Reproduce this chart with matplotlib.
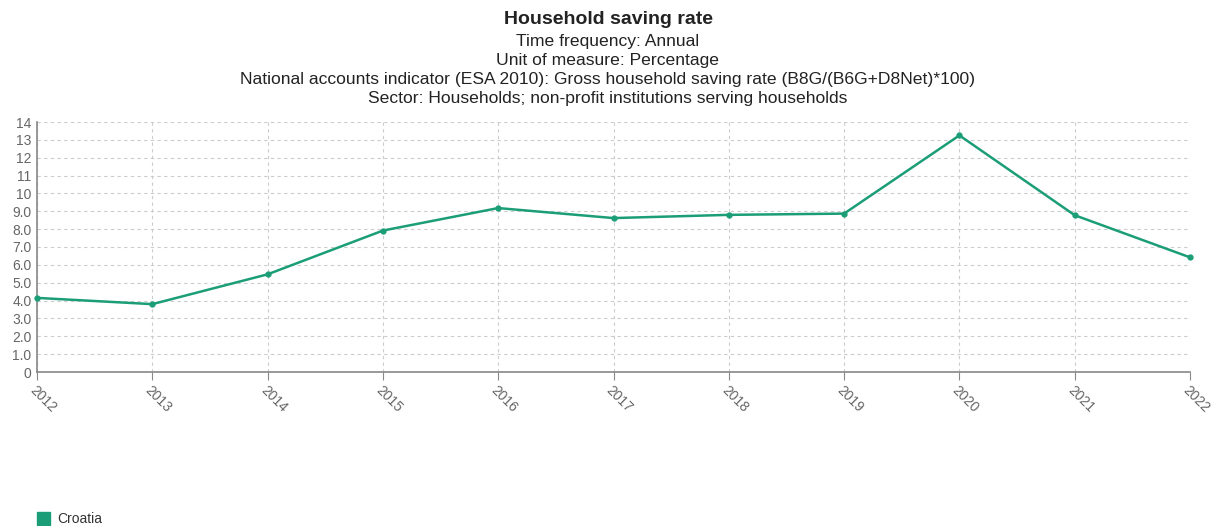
import matplotlib
matplotlib.use("Agg")
import matplotlib.pyplot as plt
from matplotlib.patches import Rectangle

plt.rcParams["font.family"] = ["Liberation Sans", "DejaVu Sans"]

years = ["2012", "2013", "2014", "2015", "2016", "2017", "2018", "2019", "2020", "2021", "2022"]
saving_rate = [4.15, 3.8, 5.47, 7.92, 9.18, 8.62, 8.8, 8.87, 13.25, 8.78, 6.42]
y_ticks = list(range(0, 15))
y_labels = ["0", "1.0", "2.0", "3.0", "4.0", "5.0", "6.0", "7.0", "8.0", "9.0", "10", "11", "12", "13", "14"]
series_name = "Croatia"

title = "Household saving rate"
subtitles = [
    "Time frequency: Annual",
    "Unit of measure: Percentage",
    "National accounts indicator (ESA 2010): Gross household saving rate (B8G/(B6G+D8Net)*100)",
    "Sector: Households; non-profit institutions serving households",
]

line_color = "#1b9e77"
text_color = "#666666"

fig = plt.figure(figsize=(12.16, 5.26), dpi=100)
ax = fig.add_axes([37 / 1216, 154 / 526, (1190 - 37) / 1216, 250 / 526])

x = list(range(len(years)))
ax.plot(x, saving_rate, color=line_color, lw=1.8, marker="o", ms=3.5, zorder=3, clip_on=False)

ax.set_xlim(0, len(years) - 1)
ax.set_ylim(0, 14)
ax.set_yticks(y_ticks)
ax.set_yticklabels(y_labels)
ax.set_xticks(x)
ax.set_xticklabels(years, rotation=-45, ha="left", va="top", rotation_mode="anchor")

ax.grid(True, color="#cccccc", linestyle=(0, (3, 3)), lw=0.8)
ax.set_axisbelow(True)
for side in ["top", "right"]:
    ax.spines[side].set_visible(False)
for side in ["left", "bottom"]:
    ax.spines[side].set_color("#888888")
    ax.spines[side].set_linewidth(1.2)
ax.tick_params(axis="y", length=0, pad=4, labelsize=10, labelcolor=text_color)
ax.tick_params(axis="x", length=6, color="#888888", pad=2, labelsize=10, labelcolor=text_color)

fig.text(0.5, 1 - 19 / 526, title, ha="center", va="center", fontsize=14, fontweight="bold", color="#222222")
for i, s in enumerate(subtitles):
    fig.text(0.5, 1 - (41 + i * 19.3) / 526, s, ha="center", va="center", fontsize=12.6, color="#222222")

# legend
fig.patches.append(Rectangle((37 / 1216, 1 - 525 / 526), 13 / 1216, 13 / 526,
                             transform=fig.transFigure, color=line_color, figure=fig))
fig.text(57 / 1216, 1 - 519 / 526, series_name, ha="left", va="center", fontsize=10, color="#333333")

fig.savefig("out.png", dpi=100)
